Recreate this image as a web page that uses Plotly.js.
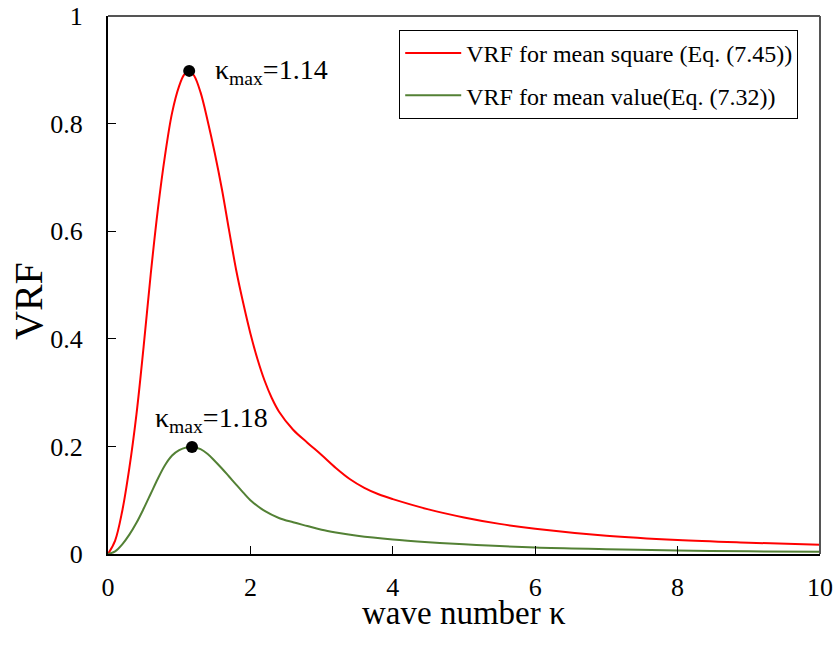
<!DOCTYPE html>
<html>
<head>
<meta charset="utf-8">
<script src="https://cdn.plot.ly/plotly-3.0.1.min.js"></script>
<style>html,body{margin:0;padding:0;background:#fff;}#chart{width:838px;height:645px;}</style>
</head>
<body>
<div id="chart"></div>
<script>
// Red: VRF for mean square (Eq. (7.45))
const kappaSquare = [0, 0.1, 0.2, 0.3, 0.4, 0.5, 0.6, 0.7, 0.8, 0.9, 1.0, 1.07, 1.14, 1.21, 1.3, 1.4, 1.5, 1.6, 1.7, 1.8, 1.9, 2.0, 2.1, 2.2, 2.3, 2.4, 2.6, 2.8, 3.0, 3.2, 3.4, 3.6, 3.8, 4.0, 4.5, 5.0, 5.5, 6.0, 7.0, 8.0, 9.0, 10];
const vrfSquare  = [0, 0.025, 0.08, 0.16, 0.26, 0.385, 0.52, 0.64, 0.74, 0.82, 0.87, 0.891, 0.898, 0.889, 0.858, 0.805, 0.745, 0.678, 0.602, 0.528, 0.466, 0.41, 0.362, 0.322, 0.29, 0.265, 0.231, 0.207, 0.184, 0.160, 0.139, 0.123, 0.111, 0.102, 0.083, 0.068, 0.056, 0.047, 0.034, 0.026, 0.021, 0.017];
// Green: VRF for mean value (Eq. (7.32))
const kappaMean = [0, 0.1, 0.2, 0.3, 0.4, 0.5, 0.6, 0.7, 0.8, 0.9, 1.0, 1.1, 1.18, 1.3, 1.4, 1.5, 1.6, 1.7, 1.8, 1.9, 2.0, 2.2, 2.4, 2.6, 2.8, 3.0, 3.2, 3.5, 4.0, 4.5, 5.0, 6.0, 7.0, 8.0, 9.0, 10];
const vrfMean   = [0, 0.005, 0.018, 0.036, 0.058, 0.084, 0.112, 0.140, 0.165, 0.183, 0.193, 0.198, 0.199, 0.195, 0.186, 0.173, 0.159, 0.144, 0.129, 0.114, 0.100, 0.080, 0.067, 0.059, 0.052, 0.045, 0.040, 0.034, 0.027, 0.022, 0.018, 0.012, 0.009, 0.0065, 0.005, 0.004];
// Peak markers
const peakKappa = [1.14, 1.18];
const peakVrf   = [0.898, 0.199];
const peakLabels = ['κ<sub>max</sub>=1.14', 'κ<sub>max</sub>=1.18'];
const seriesNames = ['VRF for mean square (Eq. (7.45))', 'VRF for mean value(Eq. (7.32))'];
const xTicks = [0, 2, 4, 6, 8, 10];
const yTicks = [0, 0.2, 0.4, 0.6, 0.8, 1];
const xTitle = 'wave number κ';
const yTitle = 'VRF';

const font = '"Liberation Serif", "Times New Roman", serif';

const traces = [
  {x: kappaSquare, y: vrfSquare, mode: 'lines', name: seriesNames[0], legendgroup: 'a',
   line: {color: '#ff0000', width: 2, shape: 'spline', smoothing: 1}},
  {x: kappaMean, y: vrfMean, mode: 'lines', name: seriesNames[1], legendgroup: 'b',
   line: {color: '#538135', width: 2, shape: 'spline', smoothing: 1}},
  {x: peakKappa, y: peakVrf, mode: 'markers', showlegend: false,
   marker: {color: '#000', size: 12}}
];

const layout = {
  width: 838, height: 645,
  margin: {l: 108, r: 18, t: 16, b: 91},
  paper_bgcolor: '#fff', plot_bgcolor: '#fff',
  font: {family: font, color: '#000', size: 24},
  showlegend: true,
  legend: {x: 0.409, y: 0.974, xanchor: 'left', yanchor: 'top',
    bordercolor: '#000', borderwidth: 1, bgcolor: '#fff', itemwidth: 56,
    font: {family: font, size: 24, color: '#000'}, tracegroupgap: 8},
  xaxis: {range: [0, 10], tickvals: xTicks, ticks: 'inside', ticklen: 8, tickwidth: 1, tickcolor: '#000',
    showline: true, linecolor: '#000', linewidth: 2, showgrid: false, zeroline: false,
    tickfont: {family: font, size: 26}, ticklabelstandoff: 9},
  yaxis: {range: [0, 1], tickvals: yTicks, ticks: 'inside', ticklen: 8, tickwidth: 1, tickcolor: '#000',
    showline: true, linecolor: '#000', linewidth: 2, showgrid: false, zeroline: false,
    tickfont: {family: font, size: 26}, ticklabelstandoff: 18},
  shapes: [
    {type: 'line', xref: 'paper', yref: 'paper', x0: 0, x1: 1, y0: 1, y1: 1, line: {color: '#555', width: 2}},
    {type: 'line', xref: 'paper', yref: 'paper', x0: 1, x1: 1, y0: 0, y1: 1, line: {color: '#555', width: 2}}
  ],
  annotations: [
    {x: peakKappa[0], y: peakVrf[0], text: peakLabels[0], showarrow: false, xanchor: 'left', yanchor: 'middle',
     xshift: 24, yshift: -1, font: {family: font, size: 28}},
    {x: peakKappa[1], y: peakVrf[1], text: peakLabels[1], showarrow: false, xanchor: 'center', yanchor: 'middle',
     xshift: 19, yshift: 27, font: {family: font, size: 28}},
    {xref: 'paper', yref: 'paper', x: 0.5, y: 0, text: xTitle, showarrow: false, xanchor: 'center', yanchor: 'middle',
     yshift: -59, font: {family: font, size: 33}},
    {xref: 'paper', yref: 'paper', x: 0, y: 0.5, text: yTitle, showarrow: false, xanchor: 'center', yanchor: 'middle',
     textangle: -90, xshift: -80, yshift: -16, font: {family: font, size: 40}}
  ]
};

Plotly.newPlot('chart', traces, layout, {displayModeBar: false, staticPlot: true});
</script>
</body>
</html>
